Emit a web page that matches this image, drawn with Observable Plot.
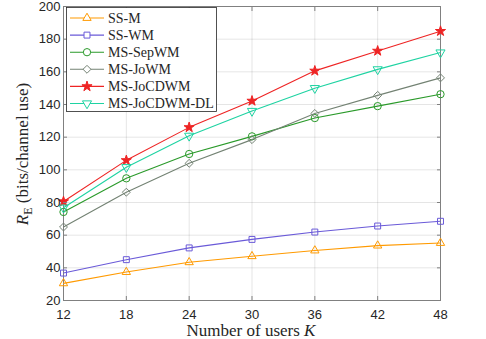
<!DOCTYPE html>
<html>
<head>
<meta charset="utf-8">
<script src="https://cdn.jsdelivr.net/npm/d3@7"></script>
<script src="https://cdn.jsdelivr.net/npm/@observablehq/plot@0.6"></script>
<style>
  html, body { margin: 0; padding: 0; background: white; }
  #chart { width: 486px; height: 339px; position: relative; }
</style>
</head>
<body>
<div id="chart"></div>
<script>
// ---- data ----
const K = [12, 18, 24, 30, 36, 42, 48];
const yTicks = [20, 40, 60, 80, 100, 120, 140, 160, 180, 200];
const seriesNames = ["SS-M", "SS-WM", "MS-SepWM", "MS-JoWM", "MS-JoCDWM", "MS-JoCDWM-DL"];
const ssM        = [30.5, 37.4, 43.4, 47.1, 50.6, 53.6, 55.2];
const ssWM       = [36.8, 45.0, 52.2, 57.4, 61.9, 65.6, 68.5];
const msSepWM    = [74.2, 94.8, 109.7, 120.5, 131.7, 139.0, 146.3];
const msJoWM     = [65.0, 86.3, 104.0, 118.5, 134.5, 145.6, 156.3];
const msJoCDWM   = [80.6, 105.8, 126.0, 142.2, 160.6, 172.8, 184.9];
const msJoCDWMDL = [76.8, 101.6, 120.8, 136.0, 150.0, 161.5, 171.8];
const seriesValues = [ssM, ssWM, msSepWM, msJoWM, msJoCDWM, msJoCDWMDL];

// ---- styles ----
const triangleDown = {
  draw(context, size) {
    const y = -Math.sqrt(size / (Math.sqrt(3) * 3));
    context.moveTo(0, -y * 2);
    context.lineTo(-Math.sqrt(3) * y, y);
    context.lineTo(Math.sqrt(3) * y, y);
    context.closePath();
  }
};
const seriesColors = ["#FF9A00", "#6A5AD8", "#2A9A2A", "#738273", "#EE2424", "#1ED3A2"];
const seriesSymbols = [d3.symbolTriangle, d3.symbolSquare2 || d3.symbolSquare, d3.symbolCircle, d3.symbolDiamond2 || d3.symbolDiamond, d3.symbolStar, triangleDown];
const symbolAreas = [30, 45, 42, 40, 32, 36];
const symbolFilled = [false, false, false, false, true, false];

// tidy rows built from the arrays
const rows = [];
seriesNames.forEach((name, s) => {
  K.forEach((k, i) => rows.push({series: name, s, K: k, value: seriesValues[s][i]}));
});

const marks = [
  Plot.gridX(K, {stroke: "#000", strokeOpacity: 0.1}),
  Plot.gridY(yTicks, {stroke: "#000", strokeOpacity: 0.1}),
  Plot.frame({stroke: "#808080", strokeWidth: 1})
];
seriesNames.forEach((name, s) => {
  const d = rows.filter(r => r.s === s);
  marks.push(Plot.line(d, {x: "K", y: "value", stroke: seriesColors[s], strokeWidth: 1.1}));
  marks.push(Plot.dot(d, {
    x: "K", y: "value",
    symbol: seriesSymbols[s],
    r: Math.sqrt(symbolAreas[s] / Math.PI),
    stroke: seriesColors[s],
    fill: symbolFilled[s] ? seriesColors[s] : "white",
    fillOpacity: symbolFilled[s] ? 1 : 0,
    strokeWidth: 1
  }));
});
marks.push(
  Plot.axisX({ticks: K, tickSize: -4, tickPadding: 13, stroke: "#808080", fill: "#262626", label: null, fontSize: 13}),
  Plot.axisY({ticks: yTicks, tickSize: -4, tickPadding: 7, stroke: "#808080", fill: "#262626", label: null, fontSize: 13}),
  Plot.axisX({anchor: "top", ticks: K, tickSize: -4, tickFormat: () => "", stroke: "#808080", label: null}),
  Plot.axisY({anchor: "right", ticks: yTicks, tickSize: -4, tickFormat: () => "", stroke: "#808080", label: null})
);

const plot = Plot.plot({
  width: 486,
  height: 339,
  marginLeft: 63,
  marginRight: 46,
  marginTop: 6,
  marginBottom: 39,
  style: {fontFamily: "'Liberation Sans', Arial, sans-serif", fontSize: "13px", background: "white", color: "#262626"},
  x: {domain: [12, 48]},
  y: {domain: [20, 200]},
  marks
});
document.getElementById("chart").appendChild(plot);

// ---- labels and legend ----
const svg = d3.select(plot);
const serif = "'Liberation Serif', 'Times New Roman', serif";

const xl = svg.append("text")
  .attr("x", 251).attr("y", 336)
  .attr("text-anchor", "middle")
  .attr("font-family", serif).attr("font-size", 17).attr("fill", "#262626");
xl.append("tspan").text("Number of users ");
xl.append("tspan").attr("font-style", "italic").text("K");

const yl = svg.append("text")
  .attr("transform", "translate(28,154) rotate(-90)")
  .attr("text-anchor", "middle")
  .attr("font-family", serif).attr("font-size", 17).attr("fill", "#262626");
yl.append("tspan").attr("font-style", "italic").text("R");
yl.append("tspan").attr("font-size", 12).attr("dy", 4).text("E");
yl.append("tspan").attr("dy", -4).text(" (bits/channel use)");

const lg = svg.append("g").attr("text-anchor", "start");
lg.append("rect")
  .attr("x", 66.5).attr("y", 7.5).attr("width", 150).attr("height", 104)
  .attr("fill", "white").attr("stroke", "#262626").attr("stroke-width", 0.8);
seriesNames.forEach((name, s) => {
  const cy = 18 + s * 17.1;
  lg.append("line").attr("x1", 70).attr("x2", 104).attr("y1", cy).attr("y2", cy)
    .attr("stroke", seriesColors[s]).attr("stroke-width", 1.1);
  lg.append("path")
    .attr("transform", `translate(87,${cy})`)
    .attr("d", d3.symbol(seriesSymbols[s], symbolAreas[s])())
    .attr("stroke", seriesColors[s])
    .attr("fill", symbolFilled[s] ? seriesColors[s] : "white");
  lg.append("text").attr("x", 108).attr("y", cy).attr("dy", "0.35em")
    .attr("text-anchor", "start")
    .attr("font-family", serif).attr("font-size", 14).attr("fill", "#262626")
    .text(name);
});
</script>
</body>
</html>
